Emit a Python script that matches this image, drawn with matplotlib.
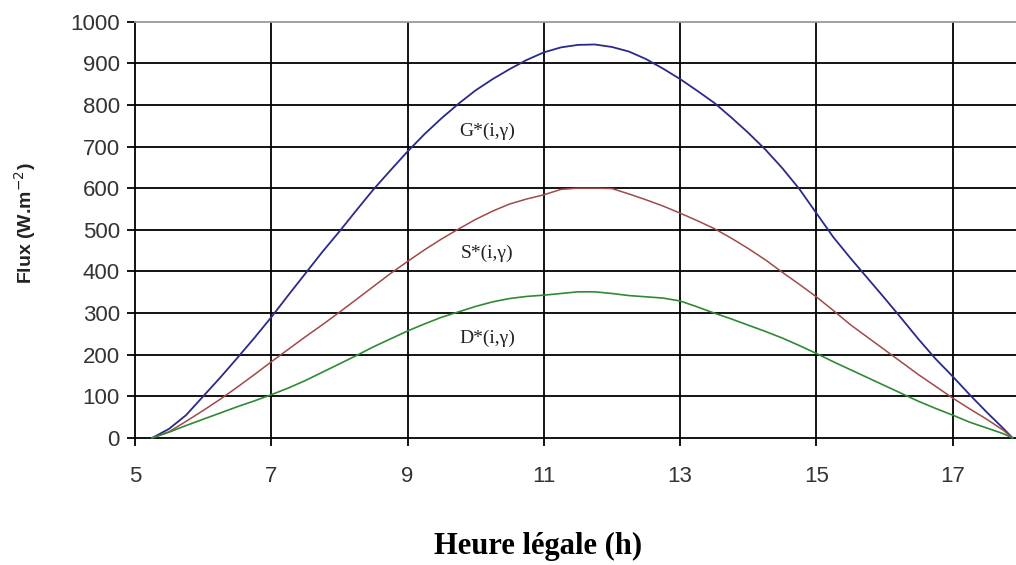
import matplotlib
matplotlib.use("Agg")
import matplotlib.pyplot as plt

# Legal time (h), sampled every quarter hour from sunrise to sunset
hours = [5.25, 5.5, 5.75, 6.0, 6.25, 6.5, 6.75, 7.0, 7.25, 7.5, 7.75, 8.0,
         8.25, 8.5, 8.75, 9.0, 9.25, 9.5, 9.75, 10.0, 10.25, 10.5, 10.75, 11.0,
         11.25, 11.5, 11.75, 12.0, 12.25, 12.5, 12.75, 13.0, 13.25, 13.5, 13.75,
         14.0, 14.25, 14.5, 14.75, 15.0, 15.25, 15.5, 15.75, 16.0, 16.25, 16.5,
         16.75, 17.0, 17.25, 17.5, 17.75, 17.88]

# Global irradiance G*(i,γ) on the inclined plane (W/m²)
global_flux = [0, 22, 55, 100, 145, 192, 240, 290, 343, 395, 447, 496,
               547, 597, 643, 688, 730, 768, 803, 835, 862, 886, 908, 926,
               938, 944, 945, 939, 928, 910, 887, 862, 834, 805, 770,
               733, 693, 648, 598, 540, 482, 432, 384, 336, 287, 237,
               190, 148, 104, 62, 22, 0]

# Direct component S*(i,γ)
direct_flux = [0, 15, 40, 66, 93, 122, 152, 183, 213, 243, 272, 302,
               333, 364, 395, 424, 452, 478, 502, 525, 545, 562, 574, 584,
               597, 600, 600, 599, 586, 572, 557, 540, 522, 503, 480,
               455, 428, 398, 369, 339, 306, 272, 242, 212, 182, 152,
               124, 96, 70, 45, 18, 0]

# Diffuse component D*(i,γ)
diffuse_flux = [0, 14, 30, 45, 60, 75, 89, 104, 120, 138, 158, 178,
                198, 219, 238, 257, 274, 290, 303, 316, 327, 335, 340, 343,
                347, 351, 351, 347, 342, 339, 336, 329, 315, 300, 286,
                271, 256, 240, 222, 203, 183, 164, 145, 126, 107, 88,
                71, 55, 38, 24, 10, 0]

curve_labels = ["G*(i,γ)", "S*(i,γ)", "D*(i,γ)"]
label_x = [10.17, 10.17, 10.17]
label_y = [736, 444, 240]

x_ticks = [5, 7, 9, 11, 13, 15, 17]
y_ticks = list(range(0, 1001, 100))

fig = plt.figure(figsize=(10.16, 5.65), dpi=100)
ax = fig.add_axes([0.1329, 0.2248, 1.0 - 0.1329, 0.9618 - 0.2248])

ax.set_xlim(5, 17.93)
ax.set_ylim(0, 1000)

# black grid
for xv in x_ticks[1:]:
    ax.axvline(xv, color="black", lw=1.3, zorder=1)
for yv in y_ticks[1:-1]:
    ax.axhline(yv, color="black", lw=1.3, zorder=1)

ax.plot(hours, global_flux, color="#2a2a8a", lw=1.3, zorder=3, clip_on=False)
ax.plot(hours, direct_flux, color="#a04a48", lw=1.1, zorder=3, clip_on=False)
ax.plot(hours, diffuse_flux, color="#2f8a32", lw=1.2, zorder=3, clip_on=False)

for txt, lx, ly in zip(curve_labels, label_x, label_y):
    ax.text(lx, ly, txt, ha="center", va="center", fontsize=14,
            family="Liberation Serif", color="#222222", zorder=4)

ax.set_xticks(x_ticks)
ax.set_yticks(y_ticks)
ax.tick_params(axis="both", direction="out", length=6, width=1.3,
               color="black", labelsize=16, labelcolor="#333333")
ax.tick_params(axis="x", pad=14)
ax.tick_params(axis="y", pad=5)
for lbl in ax.get_xticklabels() + ax.get_yticklabels():
    lbl.set_family("Liberation Sans")

for side in ("left", "bottom"):
    ax.spines[side].set_color("black")
    ax.spines[side].set_linewidth(1.3)
ax.spines["right"].set_visible(False)
ax.spines["top"].set_color("#9a9a9a")
ax.spines["top"].set_linewidth(1.3)

fig.text(0.0246, 0.605, "Flux (W.m$^{-2}$)", rotation=90, ha="center",
         va="center", fontsize=14, fontweight="bold", family="Liberation Sans",
         color="#222222")
fig.text(0.53, 0.0336, "Heure légale (h)", ha="center", va="center",
         fontsize=22, fontweight="bold", family="Liberation Serif",
         color="black")

fig.savefig("out.png", dpi=100)
